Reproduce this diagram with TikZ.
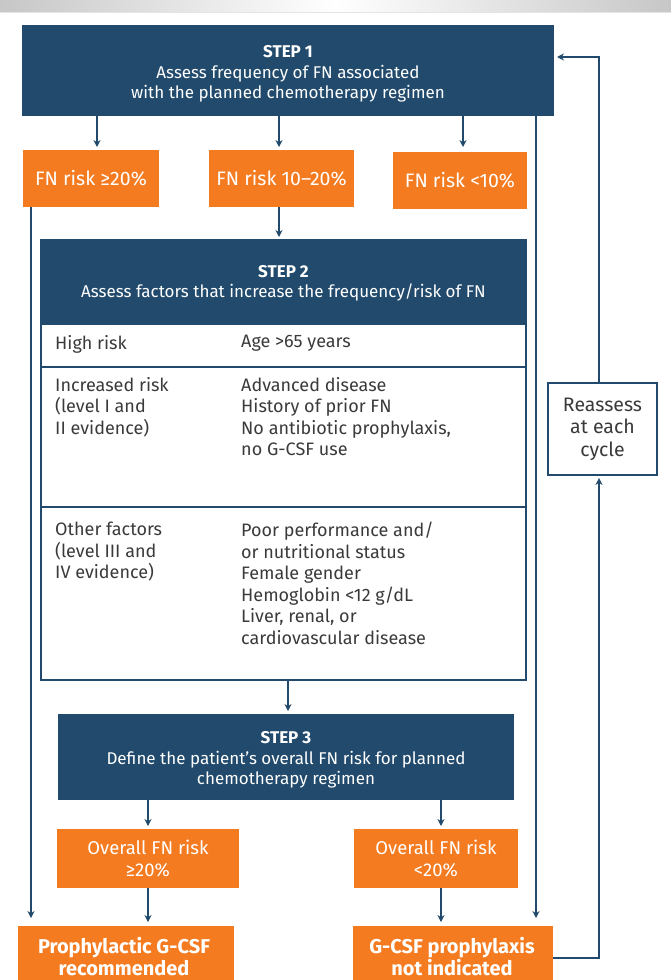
\documentclass[tikz,border=0pt]{standalone}
\usepackage{fontspec}
\setmainfont{Fira Sans}
\usetikzlibrary{arrows.meta,calc}
\definecolor{dblue}{HTML}{214A6C}
\definecolor{orng}{HTML}{F47B20}
\definecolor{txtgray}{HTML}{3A3A3A}
\tikzset{
  box/.style={inner sep=0pt, outer sep=0pt, align=center},
  bluebox/.style={box, fill=dblue},
  bluetxt/.style={box, text=white, font=\fontsize{17}{20.5}\selectfont},
  orbox/.style={box, fill=orng, text=white, font=\fontsize{19.5}{22}\selectfont},
  orbox2/.style={box, fill=orng, text=white, font=\fontsize{18.5}{22}\selectfont},
  fintxt/.style={box, text=white, font=\bfseries\fontsize{20}{22}\selectfont},
  tabtxt/.style={inner sep=0pt, anchor=north west, align=left, text=txtgray, font=\fontsize{18}{21.5}\selectfont},
  arr/.style={draw=dblue, line width=1.6pt, -{Stealth[length=7pt,width=7pt]}},
  ln/.style={draw=dblue, line width=1.6pt},
}
\begin{document}
\begin{tikzpicture}[x=1pt,y=-1pt]
\useasboundingbox (0,0) rectangle (671,980);
% top strip
\shade[left color=black!22, right color=black!22, middle color=white] (0,0) rectangle (671,12);
\draw[black!10, line width=0.8pt] (0,12.5) -- (671,12.5);

% Step 1
\node[bluebox, minimum width=532pt, minimum height=91pt] (s1) at (288,70.5) {};
\node[bluetxt] (s1t) at (288,74)
  {{\bfseries STEP 1}\\Assess frequency of FN associated\\with the planned chemotherapy regimen};
\node[orbox, minimum width=136pt, minimum height=57pt] (r1) at (91,178.5) {FN risk ≥20\%};
\node[orbox, minimum width=145pt, minimum height=57pt] (r2) at (281.5,178.5) {FN risk 10–20\%};
\node[orbox, minimum width=134pt, minimum height=57pt] (r3) at (460,180.5) {FN risk <10\%};

\draw[arr, shorten >=3pt] (s1.south -| 97,0) -- (r1.north -| 97,0);
\draw[arr, shorten >=3pt] (s1.south -| 279,0) -- (r2.north -| 279,0);
\draw[arr, shorten >=3pt] (s1.south -| 463,0) -- (463,150);

% Step 2
\node[box, minimum width=485pt, minimum height=440pt, draw=dblue, line width=1.6pt] (s2) at (283.5,460) {};
\fill[dblue] (41,240) rectangle (526,325);
\node[bluetxt] (s2h) at (283.5,283.5)
  {{\bfseries STEP 2}\\Assess factors that increase the frequency/risk of FN};
\draw[ln] (41,367) -- (526,367);
\draw[ln] (41,507) -- (526,507);
\draw[arr, shorten >=3pt] (r2.south -| 279,0) -- (s2.north -| 279,0);

\node[tabtxt] (h1) at (55,335) {High risk};
\node[tabtxt] (h2) at (241,335) {Age >65 years};
\node[tabtxt] (i1) at (55,377) {Increased risk\\(level I and\\II evidence)};
\node[tabtxt] (i2) at (241,377) {Advanced disease\\History of prior FN\\No antibiotic prophylaxis,\\no G-CSF use};
\node[tabtxt] (o1) at (55,522) {Other factors\\(level III and\\IV evidence)};
\node[tabtxt] (o2) at (241,522) {Poor performance and/\\or nutritional status\\Female gender\\Hemoglobin <12 g/dL\\Liver, renal, or\\cardiovascular disease};

% Step 3
\node[bluebox, minimum width=456pt, minimum height=86pt] (s3) at (286,757) {};
\node[bluetxt] (s3t) at (286,760)
  {{\bfseries STEP 3}\\Define the patient’s overall FN risk for planned\\chemotherapy regimen};
\draw[arr, shorten >=3pt] (s2.south -| 288,0) -- (s3.north -| 288,0);

\node[orbox2, minimum width=182pt, minimum height=59pt] (o20) at (148,858.5) {Overall FN risk\\≥20\%};
\node[orbox2, minimum width=164pt, minimum height=59pt] (u20) at (436,858.5) {Overall FN risk\\<20\%};
\draw[arr, shorten >=3pt] (s3.south -| 148,0) -- (o20.north -| 148,0);
\draw[arr, shorten >=3pt] (s3.south -| 441,0) -- (u20.north -| 441,0);

% Final
\node[box, fill=orng, minimum width=216pt, minimum height=64pt] (f1) at (126,958) {};
\node[fintxt] (f1t) at (124,957) {Prophylactic G-CSF\\recommended};
\node[box, fill=orng, minimum width=200pt, minimum height=64pt] (f2) at (453,958) {};
\node[fintxt] (f2t) at (452,957) {G-CSF prophylaxis\\not indicated};
\draw[arr, shorten >=4pt] (o20.south -| 148,0) -- (f1.north -| 148,0);
\draw[arr, shorten >=4pt] (u20.south -| 441,0) -- (f2.north -| 441,0);

% long lines
\draw[arr, shorten >=8pt] (r1.south -| 31,0) -- (f1.north -| 31,0);
\draw[arr, shorten >=8pt] (s1.south -| 536,0) -- (f2.north -| 536,0);

% Reassess
\node[box, draw=dblue, line width=1.6pt, fill=white, minimum width=109pt, minimum height=92pt,
  text=txtgray, font=\fontsize{19.5}{22.5}\selectfont] (re) at (602.5,429) {Reassess\\at each\\cycle};
\draw[arr, shorten >=3pt] (f2.east |- 0,958) -- (599,958) -- (re.south -| 599,0);
\draw[arr, shorten >=3pt] (re.north -| 599,0) -- (599,57) -- (s1.east |- 0,57);
\end{tikzpicture}
\end{document}
